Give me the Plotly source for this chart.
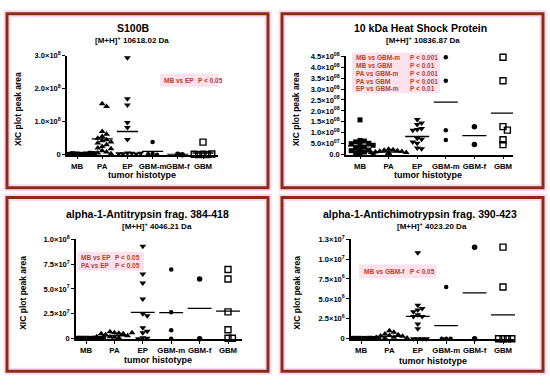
import plotly.graph_objects as go

# ---------------- data ----------------
categories = ["MB", "PA", "EP", "GBM-m", "GBM-f", "GBM"]

s100b_values = [
    [0.02e8, 0.01e8, 0.03e8, 0.02e8, 0.01e8, 0.04e8, 0.02e8, 0.03e8, 0.01e8],
    [1.54e8, 1.46e8, 0.70e8, 0.62e8, 0.55e8, 0.50e8, 0.45e8, 0.42e8, 0.38e8, 0.35e8, 0.30e8, 0.25e8,
     0.20e8, 0.18e8, 0.12e8, 0.08e8, 0.05e8, 0.03e8, 0.02e8],
    [2.93e8, 1.69e8, 1.50e8, 0.97e8, 0.82e8, 0.46e8, 0.05e8, 0.04e8, 0.03e8, 0.02e8, 0.03e8, 0.04e8],
    [0.38e8, 0.02e8, 0.0, 0.01e8],
    [0.01e8, 0.0],
    [0.38e8, 0.01e8, 0.0, 0.0, 0.02e8, 0.01e8],
]
s100b_means = [0.01e8, 0.48e8, 0.70e8, 0.10e8, 0.01e8, 0.05e8]

hsp_values = [
    [1.59e8, 0.65e8, 0.62e8, 0.58e8, 0.52e8, 0.50e8, 0.45e8, 0.43e8, 0.35e8, 0.31e8, 0.25e8, 0.21e8,
     0.18e8, 0.12e8, 0.09e8, 0.05e8, 0.03e8],
    [0.25e8, 0.22e8, 0.20e8, 0.18e8, 0.15e8, 0.14e8, 0.12e8, 0.10e8, 0.10e8, 0.08e8, 0.06e8, 0.05e8],
    [1.61e8, 1.45e8, 1.38e8, 1.20e8, 1.15e8, 1.12e8, 0.75e8, 0.70e8, 0.58e8, 0.52e8, 0.30e8, 0.27e8],
    [4.45e8, 3.38e8, 1.12e8, 0.67e8],
    [1.28e8, 0.46e8],
    [4.45e8, 3.38e8, 1.28e8, 1.12e8, 0.68e8, 0.46e8],
]
hsp_means = [0.40e8, 0.12e8, 0.83e8, 2.40e8, 0.87e8, 1.90e8]

a1at_values = [
    [0.05e7, 0.04e7, 0.05e7, 0.06e7, 0.05e7, 0.04e7, 0.05e7, 0.06e7],
    [0.60e7, 0.55e7, 0.70e7, 0.50e7, 0.40e7, 0.30e7, 0.20e7, 0.15e7, 0.10e7, 0.50e7, 0.60e7, 0.20e7],
    [9.3e7, 6.5e7, 5.6e7, 4.0e7, 2.5e7, 2.3e7, 1.1e7, 0.75e7, 0.60e7, 0.10e7, 0.05e7, 0.0],
    [6.95e7, 2.65e7, 0.85e7, 0.0],
    [6.0e7, 0.0],
    [6.95e7, 6.0e7, 2.7e7, 0.9e7, 0.05e7, 0.05e7],
]
a1at_means = [0.05e7, 0.30e7, 2.65e7, 2.62e7, 3.05e7, 2.78e7]

a1act_values = [
    [0.05e6, 0.04e6, 0.05e6, 0.06e6, 0.05e6, 0.04e6, 0.05e6, 0.06e6],
    [1.0e6, 0.8e6, 0.6e6, 0.5e6, 0.4e6, 0.35e6, 0.3e6, 0.2e6, 0.15e6, 0.1e6, 0.05e6, 0.0],
    [10.8e6, 4.2e6, 3.8e6, 3.6e6, 3.4e6, 3.0e6, 2.8e6, 2.8e6, 1.85e6, 1.25e6, 0.0, 0.0, 0.0, 0.0],
    [6.5e6, 0.0, 0.0, 0.0],
    [11.5e6, 0.0],
    [11.5e6, 6.5e6, 0.0, 0.0, 0.0, 0.0],
]
a1act_means = [0.05e6, 0.30e6, 2.80e6, 1.65e6, 5.75e6, 3.00e6]

s100b_ticks = [0, 1e8, 2e8, 3e8]
s100b_ticktext = ["0", "1.0×10<sup>8</sup>", "2.0×10<sup>8</sup>", "3.0×10<sup>8</sup>"]
hsp_ticks = [0, 0.5e8, 1.0e8, 1.5e8, 2.0e8, 2.5e8, 3.0e8, 3.5e8, 4.0e8, 4.5e8]
hsp_ticktext = ["0.0", "5.0×10<sup>07</sup>", "1.0×10<sup>08</sup>", "1.5×10<sup>08</sup>",
                "2.0×10<sup>08</sup>", "2.5×10<sup>08</sup>", "3.0×10<sup>08</sup>",
                "3.5×10<sup>08</sup>", "4.0×10<sup>08</sup>", "4.5×10<sup>08</sup>"]
a1at_ticks = [0, 2.5e7, 5.0e7, 7.5e7, 1.0e8]
a1at_ticktext = ["0", "2.5×10<sup>7</sup>", "5.0×10<sup>7</sup>", "7.5×10<sup>7</sup>", "1.0×10<sup>8</sup>"]
a1act_ticks = [0, 2.5e6, 5.0e6, 7.5e6, 1.0e7, 1.25e7]
a1act_ticktext = ["0", "2.5×10<sup>6</sup>", "5.0×10<sup>6</sup>", "7.5×10<sup>6</sup>",
                  "1.0×10<sup>7</sup>", "1.3×10<sup>7</sup>"]

titles = ["S100B", "10 kDa Heat Shock Protein",
          "alpha-1-Antitrypsin frag. 384-418", "alpha-1-Antichimotrypsin frag. 390-423"]
subtitles = ["[M+H]<sup>+</sup> 10618.02 Da", "[M+H]<sup>+</sup> 10836.87 Da",
             "[M+H]<sup>+</sup> 4046.21 Da", "[M+H]<sup>+</sup> 4023.20 Da"]
stats_left = [["MB vs EP"],
              ["MB vs GBM-m", "MB vs GBM", "PA vs GBM-m", "PA vs GBM", "EP vs GBM-m"],
              ["MB vs EP", "PA vs EP"],
              ["MB vs GBM-f"]]
stats_right = [["P < 0.05"],
               ["P < 0.001", "P < 0.01", "P < 0.001", "P < 0.001", "P < 0.01"],
               ["P < 0.05", "P < 0.05"],
               ["P < 0.05"]]

# ---------------- layout geometry (pixels, top-left origin) ----------------
W, H = 550, 386
FONT = "Arial, Liberation Sans, sans-serif"
STAT_COLOR = "#b5432a"
STAT_BG = "#fde2ee"
BORDER = "#8c2c14"

panels = [
    dict(values=s100b_values, means=s100b_means, ticks=s100b_ticks, ticktext=s100b_ticktext, ymax=3e8,
         box=(7, 8, 268, 187), xax=(67, 218), y0=153, ytop=51, mb=77, sp=25.2,
         title=(133, 23), sub=(132, 35), ylab=18, xlab=(142, 174),
         stat=dict(x0=160, x1=219, y0=70, y1=83, lx=162, rx=196, ys=[76.5])),
    dict(values=hsp_values, means=hsp_means, ticks=hsp_ticks, ticktext=hsp_ticktext, ymax=4.5e8,
         box=(282, 8, 543, 187), xax=(346, 513), y0=153, ytop=51.7, mb=360, sp=28.6,
         title=(420, 23), sub=(423, 35), ylab=296, xlab=(428, 174),
         stat=dict(x0=352, x1=440, y0=48, y1=89.5, lx=354, rx=408, ys=[53.3, 61.5, 69.7, 77.5, 85.3])),
    dict(values=a1at_values, means=a1at_means, ticks=a1at_ticks, ticktext=a1at_ticktext, ymax=1.0e8,
         box=(7, 197, 268, 376), xax=(76, 242), y0=342.5, ytop=240, mb=86, sp=28.4,
         title=(147, 214), sub=(157, 226.5), ylab=23, xlab=(158, 364),
         stat=dict(x0=77, x1=144, y0=253, y1=272.5, lx=79, rx=113, ys=[258.7, 267])),
    dict(values=a1act_values, means=a1act_means, ticks=a1act_ticks, ticktext=a1act_ticktext, ymax=1.25e7,
         box=(282, 197, 543, 376), xax=(351, 515), y0=342.5, ytop=240, mb=361, sp=28.4,
         title=(420, 214), sub=(432, 226.5), ylab=297, xlab=(433, 365),
         stat=dict(x0=359, x1=436, y0=266, y1=280, lx=362, rx=408, ys=[273])),
]

markers = [
    dict(symbol="square", size=5, color="black"),
    dict(symbol="triangle-up", size=6, color="black"),
    dict(symbol="triangle-down", size=6, color="black"),
    dict(symbol="circle", size=4.5, color="black"),
    dict(symbol="circle", size=5.5, color="black"),
    dict(symbol="square-open", size=6, color="black", line=dict(width=1.4, color="black")),
]


def swarm(vals, px_y, px_x, d=4.4, maxk=4):
    """Deterministic beeswarm offsets (category units)."""
    placed = []
    offs = []
    for v in vals:
        y = v * px_y
        chosen = 0.0
        for k in range(0, 2 * maxk + 1):
            step = (k + 1) // 2 * (1 if k % 2 else -1)
            x = step * d
            if all((x - px) ** 2 + (y - py) ** 2 >= d * d * 0.95 for px, py in placed):
                chosen = x
                break
        placed.append((chosen, y))
        offs.append(chosen / px_x)
    return offs


fig = go.Figure()
shapes = []
annotations = []

for pi, p in enumerate(panels):
    n = pi + 1
    xa = "x" if n == 1 else f"x{n}"
    ya = "y" if n == 1 else f"y{n}"
    xl, xr = p["xax"]
    left = (xl - p["mb"]) / p["sp"]
    right = (xr - p["mb"]) / p["sp"]
    px_y = (p["y0"] - p["ytop"]) / p["ymax"]

    for ci, vals in enumerate(p["values"]):
        offs = swarm(vals, px_y, p["sp"])
        fig.add_trace(go.Scatter(
            x=[ci + o for o in offs], y=vals, mode="markers", marker=markers[ci],
            xaxis=xa, yaxis=ya, showlegend=False, cliponaxis=False, hoverinfo="skip"))
        m = p["means"][ci]
        fig.add_trace(go.Scatter(
            x=[ci - 0.42, ci + 0.42], y=[m, m], mode="lines",
            line=dict(color="black", width=1.3), xaxis=xa, yaxis=ya,
            showlegend=False, cliponaxis=False, hoverinfo="skip"))

    axis_common = dict(showgrid=False, zeroline=False, showline=True, linecolor="black",
                       linewidth=1.6, ticks="outside", ticklen=3, tickwidth=1.4, tickcolor="black")
    fig.update_layout(**{
        ("xaxis" if n == 1 else f"xaxis{n}"): dict(
            domain=[xl / W, xr / W], range=[left, right], anchor=ya,
            tickvals=list(range(len(categories))), ticktext=categories, tickangle=0,
            tickfont=dict(family=FONT, size=7.8, color="black", weight="bold"), **axis_common),
        ("yaxis" if n == 1 else f"yaxis{n}"): dict(
            domain=[(H - p["y0"]) / H, (H - p["ytop"]) / H], range=[0, p["ymax"]], anchor=xa,
            tickvals=p["ticks"], ticktext=p["ticktext"],
            tickfont=dict(family=FONT, size=7.5, color="black", weight="bold"), **axis_common),
    })

    bx0, by0, bx1, by1 = p["box"]
    for lw, col in ((7, "#fbd9ee"), (3, BORDER)):
        shapes.append(dict(type="rect", xref="paper", yref="paper",
                           x0=bx0 / W, x1=bx1 / W, y0=1 - by1 / H, y1=1 - by0 / H,
                           line=dict(color=col, width=lw), layer="below"))

    s = p["stat"]
    shapes.append(dict(type="rect", xref="paper", yref="paper",
                       x0=s["x0"] / W, x1=s["x1"] / W, y0=1 - s["y1"] / H, y1=1 - s["y0"] / H,
                       fillcolor=STAT_BG, line=dict(width=0), layer="below"))
    for li, yy in enumerate(s["ys"]):
        annotations.append(dict(x=s["lx"] / W, y=1 - yy / H, xref="paper", yref="paper",
                                text=stats_left[pi][li], showarrow=False, xanchor="left", yanchor="middle",
                                font=dict(family=FONT, size=6.5, color=STAT_COLOR, weight="bold")))
        annotations.append(dict(x=s["rx"] / W, y=1 - yy / H, xref="paper", yref="paper",
                                text=stats_right[pi][li], showarrow=False, xanchor="left", yanchor="middle",
                                font=dict(family=FONT, size=6.5, color=STAT_COLOR, weight="bold")))

    tx, ty = p["title"]
    annotations.append(dict(x=tx / W, y=1 - ty / H, xref="paper", yref="paper", text=titles[pi],
                            showarrow=False, xanchor="center", yanchor="middle",
                            font=dict(family=FONT, size=10.5, color="black", weight="bold")))
    sx, sy = p["sub"]
    annotations.append(dict(x=sx / W, y=1 - sy / H, xref="paper", yref="paper", text=subtitles[pi],
                            showarrow=False, xanchor="center", yanchor="middle",
                            font=dict(family=FONT, size=8, color="black", weight="bold")))
    lx, ly = p["xlab"]
    annotations.append(dict(x=lx / W, y=1 - ly / H, xref="paper", yref="paper", text="tumor histotype",
                            showarrow=False, xanchor="center", yanchor="middle",
                            font=dict(family=FONT, size=9, color="black", weight="bold")))
    ymid = (p["y0"] + p["ytop"]) / 2 + 4
    annotations.append(dict(x=p["ylab"] / W, y=1 - ymid / H, xref="paper", yref="paper",
                            text="XIC plot peak area", textangle=-90, showarrow=False,
                            xanchor="center", yanchor="middle",
                            font=dict(family=FONT, size=8.5, color="black", weight="bold")))

fig.update_layout(width=W, height=H, margin=dict(l=0, r=0, t=0, b=0),
                  paper_bgcolor="white", plot_bgcolor="white",
                  shapes=shapes, annotations=annotations, showlegend=False)

fig.write_html("out.html", config={"displayModeBar": False},
               post_script="document.body.style.margin='0';")
